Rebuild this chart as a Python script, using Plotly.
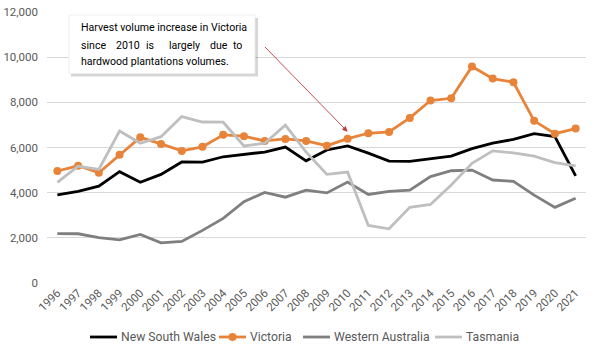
import plotly.graph_objects as go

years = list(range(1996, 2022))
nsw = [3900, 4060, 4290, 4930, 4460, 4810, 5360, 5350, 5590, 5680, 5800, 6020, 5410,
       5890, 6070, 5750, 5400, 5390, 5500, 5620, 5950, 6190, 6360, 6610, 6480, 4740]
vic = [4960, 5190, 4880, 5680, 6450, 6160, 5850, 6030, 6560, 6500, 6290, 6380, 6290,
       6080, 6390, 6630, 6690, 7310, 8080, 8180, 9590, 9050, 8890, 7180, 6610, 6840]
wa = [2190, 2180, 2010, 1910, 2150, 1780, 1840, 2330, 2860, 3600, 4010, 3800, 4110,
      3990, 4470, 3920, 4060, 4110, 4710, 4970, 5000, 4560, 4500, 3890, 3350, 3750]
tas = [4460, 5170, 5030, 6730, 6190, 6480, 7370, 7130, 7120, 6070, 6190, 6990, 5800,
       4810, 4910, 2550, 2400, 3350, 3480, 4340, 5300, 5850, 5760, 5620, 5330, 5190]
y_ticks = [0, 2000, 4000, 6000, 8000, 10000, 12000]

W, H = 611, 354
ML, MR, MT, MB = 47, 25, 12, 71
PW, PH = W - ML - MR, H - MT - MB

def px(x):
    return (x - ML) / PW

def py(y):
    return 1 - (y - MT) / PH

FONT = "Roboto"
TXT = "#595959"

fig = go.Figure()
fig.add_trace(go.Scatter(x=years, y=nsw, name="New South Wales", mode="lines",
                         line=dict(color="#000000", width=2.8)))
fig.add_trace(go.Scatter(x=years, y=vic, name="Victoria", mode="lines+markers",
                         line=dict(color="#E8833A", width=2.8),
                         marker=dict(size=8, color="#E8833A")))
fig.add_trace(go.Scatter(x=years, y=wa, name="Western Australia", mode="lines",
                         line=dict(color="#7F7F7F", width=2.8)))
fig.add_trace(go.Scatter(x=years, y=tas, name="Tasmania", mode="lines",
                         line=dict(color="#BFBFBF", width=2.8)))

# annotation box with shadow
fig.add_shape(type="rect", xref="paper", yref="paper", x0=px(71), x1=px(258), y0=py(76.5), y1=py(18),
              fillcolor="rgba(0,0,0,0.16)", line=dict(width=0), layer="above")
fig.add_shape(type="rect", xref="paper", yref="paper", x0=px(69), x1=px(255), y0=py(73.5), y1=py(15),
              fillcolor="#FFFFFF", line=dict(color="#EBEBEB", width=0.8), layer="above")

fs = 10.6
fig.add_annotation(xref="paper", yref="paper", x=px(79), y=py(28), xanchor="left", yanchor="middle",
                   text="Harvest volume increase in Victoria", showarrow=False,
                   font=dict(family=FONT, size=fs, color="#000000"))
words = [("since", 79.3), ("2010", 114), ("is", 144.3), ("largely", 166.7), ("due", 207.7), ("to", 230.7)]
for w, x in words:
    fig.add_annotation(xref="paper", yref="paper", x=px(x), y=py(45), xanchor="left", yanchor="middle",
                       text=w, showarrow=False, font=dict(family=FONT, size=fs, color="#000000"))
fig.add_annotation(xref="paper", yref="paper", x=px(79), y=py(61), xanchor="left", yanchor="middle",
                   text="hardwood plantations volumes.", showarrow=False,
                   font=dict(family=FONT, size=fs, color="#000000"))

# arrow
fig.add_annotation(x=2010, y=6700, ax=2005.94, ay=10520, xref="x", yref="y", axref="x", ayref="y",
                   text="", showarrow=True, arrowhead=2, arrowsize=1.2, arrowwidth=0.9,
                   arrowcolor="#C0393B", standoff=0)

# manual legend
legend_items = [("New South Wales", "#000000", 90, False),
                ("Victoria", "#E8833A", 219, True),
                ("Western Australia", "#7F7F7F", 303, False),
                ("Tasmania", "#BFBFBF", 435, False)]
LY = 337
for name, col, x0, mk in legend_items:
    fig.add_shape(type="line", xref="paper", yref="paper", x0=px(x0), x1=px(x0 + 27), y0=py(LY), y1=py(LY),
                  line=dict(color=col, width=2.8))
    if mk:
        fig.add_shape(type="circle", xref="paper", yref="paper", x0=px(x0 + 9.5), x1=px(x0 + 17.5),
                      y0=py(LY + 4), y1=py(LY - 4), fillcolor=col, line=dict(width=0))
    fig.add_annotation(xref="paper", yref="paper", x=px(x0 + 29), y=py(LY), xanchor="left", yanchor="middle",
                       text=name, showarrow=False, font=dict(family=FONT, size=12.2, color=TXT))

fig.update_layout(
    width=W, height=H,
    margin=dict(l=ML, r=MR, t=MT, b=MB, autoexpand=False),
    paper_bgcolor="white", plot_bgcolor="white",
    font=dict(family=FONT, size=11.5, color=TXT),
    showlegend=False,
    xaxis=dict(range=[1995.5, 2021.5], tickmode="array", tickvals=years,
               ticktext=[str(y) for y in years], tickangle=-45, showgrid=False,
               showline=False, zeroline=False, ticks="", automargin=False,
               tickfont=dict(size=11.5, color=TXT)),
    yaxis=dict(range=[0, 12000], tickvals=y_ticks, ticktext=[f"{v:,}" for v in y_ticks],
               showgrid=True, gridcolor="#D9D9D9", gridwidth=1, zeroline=False, showline=False,
               ticks="", automargin=False, ticklabelstandoff=8,
               tickfont=dict(size=11.5, color=TXT)),
)

fig.write_html("out.html")
